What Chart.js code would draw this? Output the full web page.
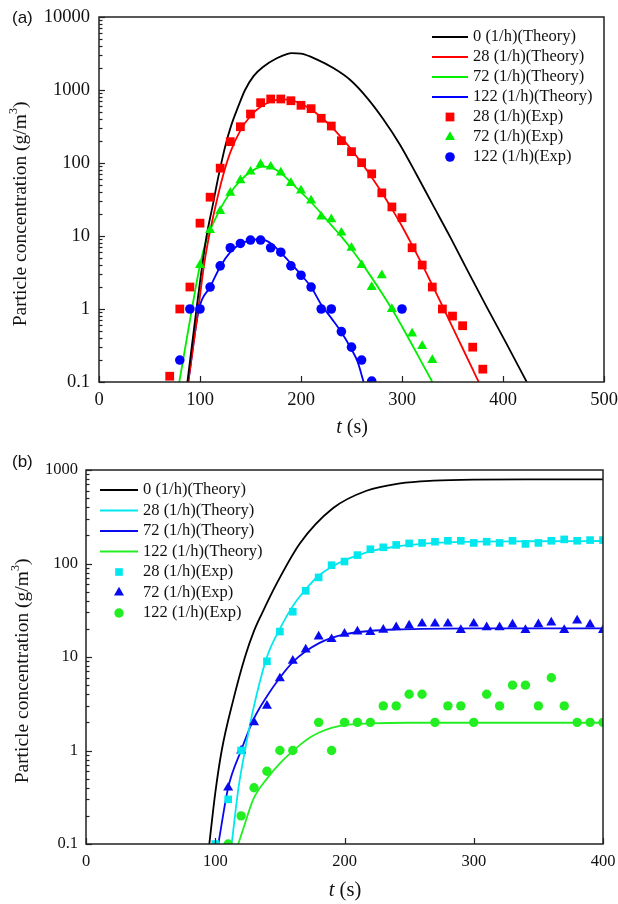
<!DOCTYPE html>
<html>
<head>
<meta charset="utf-8">
<title>Particle concentration</title>
<script src="https://cdn.jsdelivr.net/npm/chart.js@4.4.1/dist/chart.umd.min.js"></script>
<style>
html,body{margin:0;padding:0;background:#fff;}
body{width:618px;height:904px;position:relative;overflow:hidden;}
canvas{position:absolute;left:0;}
#ca{top:0;}
#cb{top:440px;}
</style>
</head>
<body>
<canvas id="ca" width="618" height="440"></canvas>
<canvas id="cb" width="618" height="464"></canvas>
<script>
// ================= DATA: panel (a) =================
const xTicksA = [0, 100, 200, 300, 400, 500];
const yTicksA = [0.1, 1, 10, 100, 1000, 10000];
const yTickLabelsA = ['0.1', '1', '10', '100', '1000', '10000'];
const labelsA = ['0 (1/h)(Theory)', '28 (1/h)(Theory)', '72 (1/h)(Theory)', '122 (1/h)(Theory)',
                 '28 (1/h)(Exp)', '72 (1/h)(Exp)', '122 (1/h)(Exp)'];

const tTheory0A = [87.5,96.5,101,106.5,113,116.5,120,125,131,138,144.6,153,162.7,176,186,191,200,215.5,232,248.5,265,281.5,298,314.5,330,347.5,364,383.8,403.7,423.5];
const cTheory0A = [0.1,1,3,10,28,50,85,170,330,600,1000,1550,2085,2717,3110,3200,3150,2630,1995,1380,794,398,178,69,27.5,9.8,3.55,1.07,0.33,0.1];

const tTheory28A = [88.4,98.3,104,109,116,122.5,130,140,150,160,170,180,190,200,210,220,230,240,250,260,270,280,290,300,310,320,330,340,350,360,370,376];
const cTheory28A = [0.1,1,4,10,28,65,140,280,440,590,690,745,728,649,540,424,314,222,152,100,64,39.5,23.5,13.6,7.5,4.05,2.12,1.1,0.565,0.29,0.149,0.1];

const tTheory72A = [79.5,92,100,106,115,125,135,145,155,162,170,180,190,200,210,220,230,240,250,260,270,280,290,300,310,320,330];
const cTheory72A = [0.1,1,4,8.5,17,31,48,67,83,89,87,73,54,40,29,20.4,14.1,9.8,6.6,4.27,2.69,1.66,1.0,0.575,0.324,0.18,0.1];

const tTheory122A = [88.4,99,110,120,130,140,150,158,165,172,180,190,200,210,220,230,240,250,256,262];
const cTheory122A = [0.1,1,2,3.8,6,7.8,8.7,9,8.7,7.6,5.9,4.2,2.95,2.0,1.15,0.75,0.48,0.28,0.19,0.1];

const tExp28A = [70,80,90,100,110,120,130,140,150,160,170,180,190,200,210,220,230,240,250,260,270,280,290,300,310,320,330,340,350,360,370,380];
const cExp28A = [0.12,1.0,2.0,15,34,85,196,314,469,670,753,753,713,617,555,410,321,202,143,101,71,39,25,17.8,6.9,4.0,2.0,1.0,0.80,0.59,0.30,0.15];

const tExp72A = [100,110,120,130,140,150,160,170,180,190,200,210,220,230,240,250,260,270,280,290,310,320,330];
const cExp72A = [4.0,12,22,39,58,76,96,89,74,53,42,30.5,18.4,16.9,11.1,6.9,4.0,2.0,2.9,1.0,0.46,0.31,0.2];

const tExp122A = [80,90,100,110,120,130,140,150,160,170,180,190,200,210,220,230,240,250,260,270,300];
const cExp122A = [0.2,1.0,1.0,2.0,3.9,6.9,7.9,8.8,8.8,6.9,6.0,3.9,2.9,2.0,1.0,1.0,0.49,0.3,0.2,0.103,1.0];

// ================= DATA: panel (b) =================
const xTicksB = [0, 100, 200, 300, 400];
const yTicksB = [0.1, 1, 10, 100, 1000];
const yTickLabelsB = ['0.1', '1', '10', '100', '1000'];
const labelsB = ['0 (1/h)(Theory)', '28 (1/h)(Theory)', '72 (1/h)(Theory)', '122 (1/h)(Theory)',
                 '28 (1/h)(Exp)', '72 (1/h)(Exp)', '122 (1/h)(Exp)'];

const tTheory0B = [95.4,100,105,114,123,130,136,147.5,165.6,191,217,243,269,300,350,400];
const cTheory0B = [0.1,0.35,1,3.5,10,19,29,61,165,390,600,720,770,790,795,795];

const tTheory28B = [112.7,118,123,130,140,150,160,170,180,190,200,210,220,240,260,280,300,340,400];
const cTheory28B = [0.1,0.4,1,3,10,20,35,53,74,92,108,122,135,152,162,168,171,173,174];

const tTheory72B = [102.4,110,120,130,140,150,160,170,180,190,200,220,240,260,300,400];
const cTheory72B = [0.1,0.4,1,2.2,3.8,6,8.8,11.5,14,16,17.5,19,19.7,20,20.2,20.2];

const tTheory122B = [117.8,122,129.4,140,150,165.6,173.3,180,190,200,220,250,300,400];
const cTheory122B = [0.1,0.15,0.3,0.5,0.73,1.15,1.38,1.55,1.75,1.87,1.95,1.98,1.98,1.98];

const tExp28B = [100,110,120,140,150,160,170,180,190,200,210,220,230,240,250,260,270,280,290,300,310,320,330,340,350,360,370,380,390,400];
const cExp28B = [0.1,0.3,1.0,9,18.7,30.5,51,71,96,105,123,142,149,158,164,166,171,175,175,166,171,166,175,162,166,175,181,175,178,178];

const tExp72B = [110,120,130,140,150,160,170,180,190,200,210,220,230,240,250,260,270,280,290,300,310,320,330,340,350,360,370,380,390,400];
const cExp72B = [0.4,1.0,2.0,3.0,5.9,9.1,12,16.5,15.5,17.7,18.7,18.5,19.5,20.8,21.7,22.7,22.7,22.7,19.4,22.7,20.8,20.8,22.2,19.4,22.4,23.3,19.4,24.5,22.2,19.4];

const tExp122B = [110,120,130,140,150,160,180,190,200,210,220,230,240,250,260,270,280,290,300,310,320,330,340,350,360,370,380,390,400];
const cExp122B = [0.1,0.2,0.4,0.6,1,1,2,1,2,2,2,3,3,4,4,2,3,3,2,4,3,5,5,3,6,3,2,2,2];

// ================= helpers =================
const SERIF = "'Liberation Serif', 'Times New Roman', serif";
const SANS = "'Liberation Sans', Arial, sans-serif";
const pts = (ts, cs) => ts.map((t, i) => ({x: t, y: cs[i]}));

function theory(label, color, ts, cs) {
  return {label, data: pts(ts, cs), showLine: true, borderColor: color, backgroundColor: color,
          borderWidth: 1.8, pointRadius: 0, pointHoverRadius: 0, cubicInterpolationMode: 'monotone', order: 1};
}
function exp(label, color, style, r, ts, cs) {
  return {label, data: pts(ts, cs), showLine: false, pointStyle: style, pointRadius: r, pointHoverRadius: r,
          pointBackgroundColor: color, pointBorderColor: color, pointBorderWidth: 0,
          backgroundColor: color, borderColor: color, order: 0};
}

function drawRuns(ctx, runs, cx, cy, rotate) {
  ctx.save();
  ctx.translate(cx, cy);
  if (rotate) ctx.rotate(-Math.PI / 2);
  let total = 0;
  runs.forEach(r => { ctx.font = r.font; r.w = ctx.measureText(r.t).width; total += r.w; });
  let x = -total / 2;
  ctx.textBaseline = 'middle';
  ctx.textAlign = 'left';
  ctx.fillStyle = '#111';
  runs.forEach(r => { ctx.font = r.font; ctx.fillText(r.t, x, r.dy || 0); x += r.w; });
  ctx.restore();
}

function fallbackPoint(ctx, style, r, x, y) {
  ctx.beginPath();
  if (style === 'rect') { const s = r * Math.SQRT1_2; ctx.rect(x - s, y - s, 2 * s, 2 * s); }
  else if (style === 'triangle') {
    ctx.moveTo(x, y - r);
    ctx.lineTo(x + r * Math.cos(Math.PI / 6), y + r / 2);
    ctx.lineTo(x - r * Math.cos(Math.PI / 6), y + r / 2);
    ctx.closePath();
  } else { ctx.arc(x, y, r, 0, Math.PI * 2); }
  ctx.fill();
}

const decorPlugin = {
  id: 'decor',
  afterDraw(chart, args, o) {
    const ctx = chart.ctx;
    const ca = chart.chartArea;
    const xs = chart.scales.x, ys = chart.scales.y;
    ctx.save();
    // frame
    ctx.strokeStyle = '#222';
    ctx.lineWidth = 1.5;
    ctx.strokeRect(ca.left, ca.top, ca.right - ca.left, ca.bottom - ca.top);
    // y ticks (log, inward)
    ctx.lineWidth = 1.2;
    const dMin = Math.round(Math.log10(ys.min)), dMax = Math.round(Math.log10(ys.max));
    for (let d = dMin; d <= dMax; d++) {
      for (let m = 1; m <= 9; m++) {
        const v = m * Math.pow(10, d);
        if (v > ys.max * 1.0001) break;
        const py = Math.round(ys.getPixelForValue(v)) + 0.5;
        const len = m === 1 ? o.tickMajor : o.tickMinor;
        ctx.beginPath(); ctx.moveTo(ca.left, py); ctx.lineTo(ca.left + len, py); ctx.stroke();
      }
    }
    // x ticks (inward)
    o.xTicks.forEach(v => {
      const px = Math.round(xs.getPixelForValue(v)) + 0.5;
      ctx.beginPath(); ctx.moveTo(px, ca.bottom); ctx.lineTo(px, ca.bottom - o.tickMajor); ctx.stroke();
    });
    // legend
    ctx.textBaseline = 'middle';
    ctx.textAlign = 'left';
    chart.data.datasets.forEach((ds, i) => {
      const y = o.legendY + i * o.legendDy;
      const mid = o.legendX + o.lineLen / 2;
      if (ds.showLine) {
        ctx.strokeStyle = ds.borderColor; ctx.lineWidth = 2;
        ctx.beginPath(); ctx.moveTo(o.legendX, y); ctx.lineTo(o.legendX + o.lineLen, y); ctx.stroke();
      } else {
        ctx.fillStyle = ds.pointBackgroundColor;
        if (Chart.helpers && Chart.helpers.drawPoint) {
          Chart.helpers.drawPoint(ctx, {pointStyle: ds.pointStyle, radius: ds.pointRadius, rotation: 0, borderWidth: 0}, mid, y);
        } else {
          fallbackPoint(ctx, ds.pointStyle, ds.pointRadius, mid, y);
        }
      }
      ctx.fillStyle = '#111';
      ctx.font = o.legendFont + 'px ' + SERIF;
      ctx.fillText(ds.label, o.legendX + o.lineLen + o.textGap, y);
    });
    // panel label
    ctx.fillStyle = '#111';
    ctx.font = o.panelFont + 'px ' + SANS;
    ctx.textBaseline = 'middle';
    ctx.fillText(o.panel, o.panelX, o.panelY);
    ctx.restore();
    // axis titles
    const f = o.titleFont;
    drawRuns(ctx, [
      {t: 'Particle concentration (g/m', font: f + 'px ' + SERIF},
      {t: '3', font: Math.round(f * 0.6) + 'px ' + SERIF, dy: -f * 0.38},
      {t: ')', font: f + 'px ' + SERIF}
    ], o.yTitleX, o.yTitleY, true);
    drawRuns(ctx, [
      {t: 't', font: 'italic ' + o.xTitleFont + 'px ' + SERIF},
      {t: ' (s)', font: o.xTitleFont + 'px ' + SERIF}
    ], o.xTitleX, o.xTitleY, false);
  }
};

function makeChart(canvasId, datasets, cfg) {
  return new Chart(document.getElementById(canvasId), {
    type: 'scatter',
    data: {datasets},
    plugins: [decorPlugin],
    options: {
      responsive: false,
      animation: false,
      devicePixelRatio: 1,
      events: [],
      layout: {padding: cfg.padding},
      scales: {
        x: {
          type: 'linear', min: cfg.xTicks[0], max: cfg.xTicks[cfg.xTicks.length - 1],
          grid: {display: false, drawTicks: false}, border: {display: false},
          afterBuildTicks: s => { s.ticks = cfg.xTicks.map(v => ({value: v})); },
          afterFit: s => { s.height = cfg.xHeight; s.paddingLeft = 0; s.paddingRight = 0; },
          ticks: {autoSkip: false, maxRotation: 0, padding: cfg.xPad, color: '#111',
                  font: {family: SERIF, size: cfg.tickFont},
                  callback: v => String(v)}
        },
        y: {
          type: 'logarithmic', min: cfg.yTicks[0], max: cfg.yTicks[cfg.yTicks.length - 1],
          grid: {display: false, drawTicks: false}, border: {display: false},
          afterBuildTicks: s => { s.ticks = cfg.yTicks.map(v => ({value: v})); },
          afterFit: s => { s.width = cfg.yWidth; s.paddingTop = 0; s.paddingBottom = 0; },
          ticks: {autoSkip: false, padding: cfg.yPad, color: '#111',
                  font: {family: SERIF, size: cfg.tickFont},
                  callback: v => {
                    const i = cfg.yTicks.findIndex(t => Math.abs(t - v) < t * 1e-6);
                    return i >= 0 ? cfg.yLabels[i] : '';
                  }}
        }
      },
      plugins: {
        legend: {display: false},
        tooltip: {enabled: false},
        decor: cfg.decor
      }
    }
  });
}

// ---- panel (a) ----
makeChart('ca', [
  theory(labelsA[0], '#000000', tTheory0A, cTheory0A),
  theory(labelsA[1], '#ff0000', tTheory28A, cTheory28A),
  theory(labelsA[2], '#00ee00', tTheory72A, cTheory72A),
  theory(labelsA[3], '#0000ff', tTheory122A, cTheory122A),
  exp(labelsA[4], '#ff0000', 'rect', 6.2, tExp28A, cExp28A),
  exp(labelsA[5], '#00ee00', 'triangle', 5.8, tExp72A, cExp72A),
  exp(labelsA[6], '#0000ff', 'circle', 4.8, tExp122A, cExp122A)
], {
  padding: {left: 0, top: 17, right: 14, bottom: 0},
  xTicks: xTicksA, yTicks: yTicksA, yLabels: yTickLabelsA,
  yWidth: 99, xHeight: 58, xPad: 7, yPad: 9, tickFont: 18.5,
  decor: {
    xTicks: xTicksA, tickMajor: 6, tickMinor: 3.5,
    legendX: 432, legendY: 37, legendDy: 20, lineLen: 36, textGap: 5, legendFont: 16.5,
    panel: '(a)', panelX: 12, panelY: 18, panelFont: 17,
    titleFont: 19.5, yTitleX: 21, yTitleY: 214,
    xTitleFont: 20, xTitleX: 352, xTitleY: 428
  }
});

// ---- panel (b) ----
makeChart('cb', [
  theory(labelsB[0], '#000000', tTheory0B, cTheory0B),
  theory(labelsB[1], '#00e8ee', tTheory28B, cTheory28B),
  theory(labelsB[2], '#0a0af0', tTheory72B, cTheory72B),
  theory(labelsB[3], '#22ee22', tTheory122B, cTheory122B),
  exp(labelsB[4], '#00e8ee', 'rect', 5.4, tExp28B, cExp28B),
  exp(labelsB[5], '#0a0af0', 'triangle', 5.8, tExp72B, cExp72B),
  exp(labelsB[6], '#22ee22', 'circle', 4.7, tExp122B, cExp122B)
], {
  padding: {left: 0, top: 30, right: 15, bottom: 0},
  xTicks: xTicksB, yTicks: yTicksB, yLabels: yTickLabelsB,
  yWidth: 86, xHeight: 60, xPad: 8, yPad: 8, tickFont: 16.5,
  decor: {
    xTicks: xTicksB, tickMajor: 6, tickMinor: 3.5,
    legendX: 100, legendY: 50, legendDy: 20.5, lineLen: 38, textGap: 5, legendFont: 16.5,
    panel: '(b)', panelX: 12, panelY: 22.5, panelFont: 17,
    titleFont: 19.5, yTitleX: 23, yTitleY: 231,
    xTitleFont: 20.5, xTitleX: 345, xTitleY: 451
  }
});
</script>
</body>
</html>
